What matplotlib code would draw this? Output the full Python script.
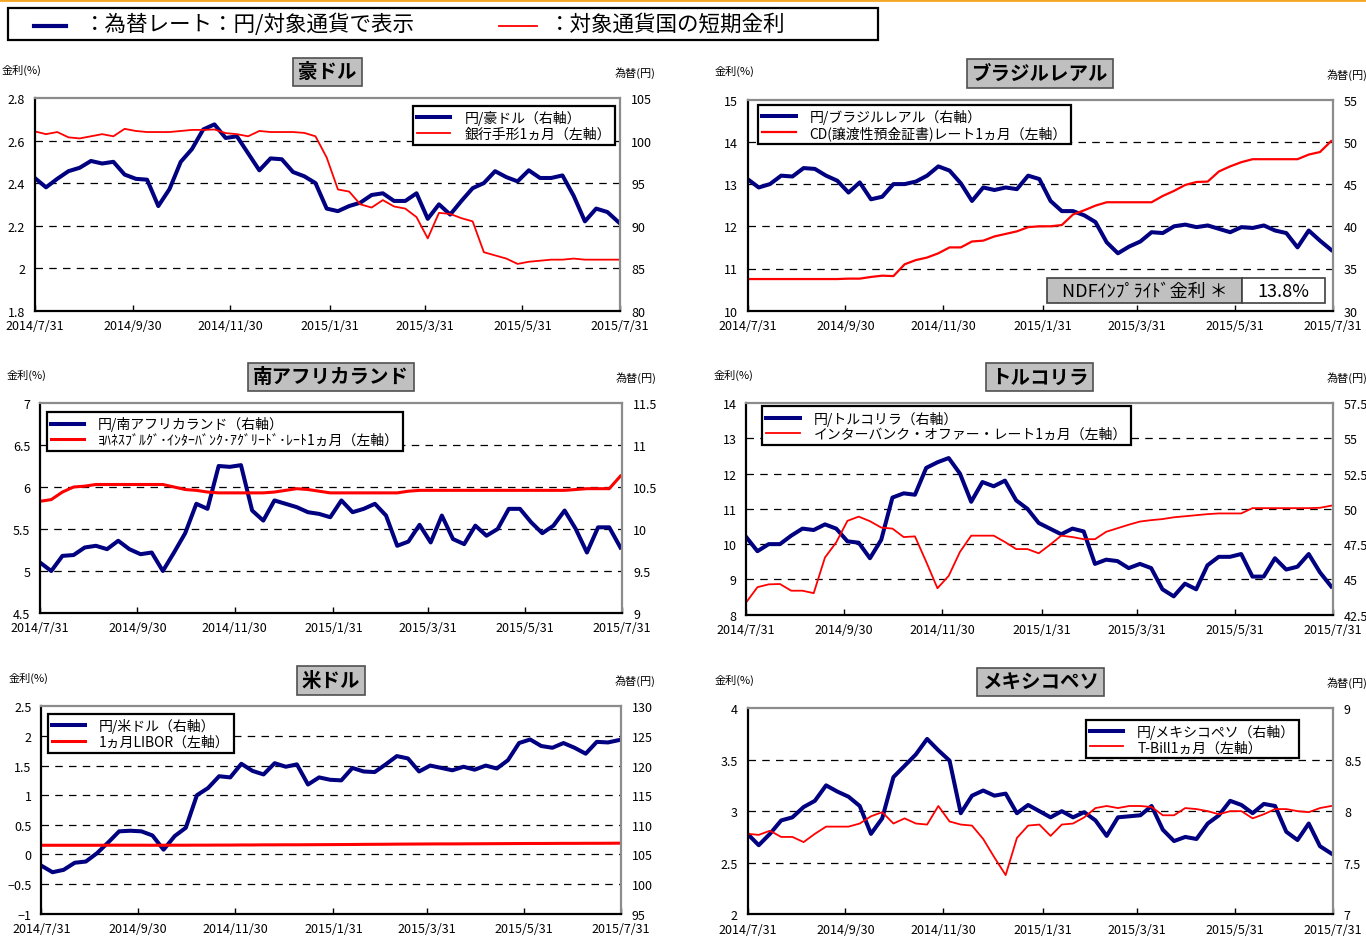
import numpy as np
import pandas as pd
import matplotlib
matplotlib.use('Agg')
import matplotlib.pyplot as plt
from matplotlib.lines import Line2D
from matplotlib.patches import Rectangle

plt.rcParams['font.family'] = ['Noto Sans CJK JP', 'DejaVu Sans']

# weekly readings, 2014/7/31 - 2015/7/30
week_dates = pd.date_range('2014-07-31', periods=53, freq='7D')

tick_dates = pd.to_datetime(['2014-07-31', '2014-09-30', '2014-11-30', '2015-01-31',
                             '2015-03-31', '2015-05-31', '2015-07-31'])
tick_labels = ['2014/7/31', '2014/9/30', '2014/11/30', '2015/1/31',
               '2015/3/31', '2015/5/31', '2015/7/31']

# 豪ドル
aud_jpy = [95.6, 94.5, 95.5, 96.4, 96.8, 97.6, 97.3, 97.5, 96.0, 95.5,
           95.4, 92.3, 94.3, 97.5, 99.0, 101.3, 101.9, 100.3, 100.5, 98.5,
           96.5, 97.9, 97.8, 96.3, 95.8, 95.0, 92.0, 91.7, 92.3, 92.7,
           93.6, 93.8, 92.9, 92.9, 93.8, 90.8, 92.5, 91.3, 92.9, 94.4,
           95.0, 96.4, 95.7, 95.2, 96.5, 95.6, 95.6, 95.9, 93.5, 90.5,
           92.0, 91.6, 90.4]
aud_rate = [2.643, 2.63, 2.64, 2.615, 2.61, 2.62, 2.63, 2.62, 2.655, 2.645,
            2.64, 2.64, 2.64, 2.645, 2.65, 2.65, 2.652, 2.635, 2.63, 2.62,
            2.645, 2.64, 2.64, 2.64, 2.636, 2.62, 2.52, 2.37, 2.36, 2.30,
            2.285, 2.32, 2.29, 2.28, 2.24, 2.14, 2.26, 2.255, 2.235, 2.22,
            2.075, 2.06, 2.045, 2.02, 2.03, 2.035, 2.04, 2.04, 2.045, 2.04,
            2.04, 2.04, 2.04]

# ブラジルレアル
brl_jpy = [45.6, 44.6, 45.0, 46.0, 45.9, 46.9, 46.8, 46.0, 45.4, 44.0,
           45.2, 43.2, 43.5, 45.0, 45.0, 45.3, 46.0, 47.1, 46.6, 45.1,
           43.0, 44.6, 44.3, 44.6, 44.4, 46.0, 45.6, 43.0, 41.8, 41.8,
           41.3, 40.5, 38.1, 36.8, 37.6, 38.2, 39.3, 39.2, 40.0, 40.2,
           39.9, 40.1, 39.7, 39.3, 39.9, 39.8, 40.1, 39.5, 39.2, 37.5,
           39.5, 38.3, 37.2]
brl_rate = [10.75, 10.75, 10.75, 10.75, 10.75, 10.75, 10.75, 10.75, 10.75, 10.76,
            10.76, 10.80, 10.83, 10.82, 11.10, 11.20, 11.26, 11.36, 11.50, 11.50,
            11.64, 11.66, 11.76, 11.82, 11.88, 11.98, 12.00, 12.00, 12.03, 12.28,
            12.38, 12.49, 12.57, 12.57, 12.57, 12.57, 12.57, 12.72, 12.84, 12.98,
            13.05, 13.06, 13.30, 13.42, 13.52, 13.59, 13.59, 13.59, 13.59, 13.59,
            13.70, 13.76, 14.02]
brl_ndf = '13.8%'

# 南アフリカランド
zar_jpy = [9.60, 9.50, 9.68, 9.69, 9.78, 9.80, 9.76, 9.86, 9.76, 9.70,
           9.72, 9.50, 9.72, 9.95, 10.30, 10.24, 10.75, 10.74, 10.76, 10.22,
           10.10, 10.34, 10.30, 10.26, 10.20, 10.18, 10.14, 10.34, 10.20, 10.24,
           10.30, 10.16, 9.80, 9.85, 10.05, 9.84, 10.16, 9.88, 9.82, 10.04,
           9.92, 10.00, 10.24, 10.24, 10.08, 9.95, 10.04, 10.22, 10.00, 9.72,
           10.02, 10.02, 9.78]
zar_rate = [5.83, 5.85, 5.94, 6.00, 6.01, 6.03, 6.03, 6.03, 6.03, 6.03,
            6.03, 6.03, 6.00, 5.97, 5.96, 5.94, 5.93, 5.93, 5.93, 5.93,
            5.93, 5.94, 5.96, 5.98, 5.97, 5.95, 5.93, 5.93, 5.93, 5.93,
            5.93, 5.93, 5.93, 5.95, 5.96, 5.96, 5.96, 5.96, 5.96, 5.96,
            5.96, 5.96, 5.96, 5.96, 5.96, 5.96, 5.96, 5.96, 5.97, 5.98,
            5.98, 5.98, 6.13]

# トルコリラ
try_jpy = [48.0, 47.0, 47.5, 47.5, 48.1, 48.6, 48.5, 48.9, 48.6, 47.7,
           47.6, 46.5, 47.8, 50.8, 51.1, 51.0, 52.9, 53.3, 53.6, 52.5,
           50.5, 51.9, 51.6, 52.0, 50.6, 50.0, 49.0, 48.6, 48.2, 48.6,
           48.4, 46.1, 46.4, 46.3, 45.8, 46.1, 45.8, 44.3, 43.8, 44.7,
           44.3, 46.0, 46.6, 46.6, 46.8, 45.2, 45.2, 46.5, 45.7, 45.9,
           46.8, 45.5, 44.5]
try_rate = [8.35, 8.78, 8.86, 8.87, 8.68, 8.68, 8.61, 9.62, 10.05, 10.66,
            10.78, 10.65, 10.47, 10.44, 10.20, 10.22, 9.50, 8.75, 9.10, 9.78,
            10.24, 10.24, 10.24, 10.06, 9.86, 9.86, 9.74, 9.98, 10.24, 10.20,
            10.14, 10.14, 10.35, 10.45, 10.55, 10.64, 10.68, 10.71, 10.76, 10.79,
            10.82, 10.85, 10.87, 10.87, 10.87, 11.02, 11.02, 11.02, 11.02, 11.02,
            11.02, 11.03, 11.09]

# 米ドル
usd_jpy = [103.1, 102.0, 102.4, 103.6, 103.8, 105.2, 107.0, 108.9, 109.0, 108.9,
           108.2, 105.8, 108.1, 109.5, 115.0, 116.2, 118.2, 118.0, 120.3, 119.1,
           118.5, 120.4, 119.8, 120.2, 116.8, 118.0, 117.6, 117.5, 119.6, 119.0,
           118.9, 120.2, 121.6, 121.2, 119.0, 120.0, 119.6, 119.2, 119.8, 119.3,
           120.0, 119.5, 120.9, 123.8, 124.4, 123.3, 123.0, 123.8, 123.0, 122.0,
           124.0, 123.9, 124.3]
usd_rate = [0.155, 0.155, 0.155, 0.155, 0.155, 0.155, 0.156, 0.156, 0.156, 0.156,
            0.155, 0.156, 0.156, 0.156, 0.157, 0.157, 0.158, 0.158, 0.160, 0.160,
            0.162, 0.162, 0.163, 0.163, 0.164, 0.165, 0.166, 0.167, 0.168, 0.170,
            0.171, 0.172, 0.174, 0.175, 0.176, 0.177, 0.178, 0.178, 0.179, 0.180,
            0.181, 0.182, 0.183, 0.184, 0.185, 0.185, 0.186, 0.187, 0.187, 0.188,
            0.188, 0.189, 0.190]

# メキシコペソ
mxn_jpy = [7.78, 7.67, 7.78, 7.91, 7.94, 8.04, 8.10, 8.25, 8.19, 8.14,
           8.05, 7.78, 7.93, 8.33, 8.44, 8.55, 8.70, 8.59, 8.49, 7.98,
           8.15, 8.20, 8.15, 8.17, 7.98, 8.06, 8.00, 7.94, 8.00, 7.94,
           7.99, 7.91, 7.76, 7.94, 7.95, 7.96, 8.05, 7.82, 7.71, 7.75,
           7.73, 7.88, 7.96, 8.10, 8.06, 7.98, 8.07, 8.05, 7.80, 7.72,
           7.88, 7.66, 7.59]
mxn_rate = [2.78, 2.77, 2.81, 2.75, 2.75, 2.70, 2.78, 2.85, 2.85, 2.85,
            2.88, 2.95, 2.99, 2.88, 2.93, 2.88, 2.87, 3.05, 2.90, 2.87,
            2.86, 2.73, 2.55, 2.38, 2.74, 2.86, 2.87, 2.76, 2.87, 2.88,
            2.94, 3.03, 3.05, 3.03, 3.05, 3.05, 3.04, 2.96, 2.96, 3.03,
            3.02, 3.00, 2.97, 3.00, 3.00, 2.93, 2.97, 3.02, 3.02, 3.00,
            2.99, 3.03, 3.05]

# axis ticks (left = 金利, right = 為替)
aud_left = [1.8, 2.0, 2.2, 2.4, 2.6, 2.8]
aud_right = [80, 85, 90, 95, 100, 105]
brl_left = [10, 11, 12, 13, 14, 15]
brl_right = [30, 35, 40, 45, 50, 55]
zar_left = [4.5, 5.0, 5.5, 6.0, 6.5, 7.0]
zar_right = [9.0, 9.5, 10.0, 10.5, 11.0, 11.5]
try_left = [8, 9, 10, 11, 12, 13, 14]
try_right = [42.5, 45, 47.5, 50, 52.5, 55, 57.5]
usd_left = [-1.0, -0.5, 0.0, 0.5, 1.0, 1.5, 2.0, 2.5]
usd_right = [95, 100, 105, 110, 115, 120, 125, 130]
mxn_left = [2.0, 2.5, 3.0, 3.5, 4.0]
mxn_right = [7.0, 7.5, 8.0, 8.5, 9.0]

NAVY = '#000080'
RED = '#ff0000'
W, H = 1366, 937


def fig_rect(l, t, r, b):
    # pixel box (from top-left) -> figure fraction
    return [l / W, 1 - b / H, (r - l) / W, (b - t) / H]


def fmt(v):
    return ('%g' % v).replace('-', '\u2212')


def draw_panel(fig, box, title, fx, rate, fx_ticks, rate_ticks,
               fx_label, rate_label, leg_loc, leg_anchor, rate_lw):
    ax = fig.add_axes(fig_rect(*box))
    ax2 = ax.twinx()
    # rate (left axis) drawn on top of the fx line
    ax.set_zorder(ax2.get_zorder() + 1)
    ax.patch.set_visible(False)

    l_fx, = ax2.plot(week_dates, fx, color=NAVY, lw=2.9, solid_joinstyle='round')
    l_rt, = ax.plot(week_dates, rate, color=RED, lw=rate_lw)

    ax.set_xlim(tick_dates[0], tick_dates[-1])
    ax.set_xticks(tick_dates, labels=tick_labels)
    ax.set_ylim(rate_ticks[0], rate_ticks[-1])
    ax.set_yticks(rate_ticks, labels=[fmt(v) for v in rate_ticks])
    ax2.set_ylim(fx_ticks[0], fx_ticks[-1])
    ax2.set_yticks(fx_ticks, labels=[fmt(v) for v in fx_ticks])

    ax2.grid(axis='y', color='black', lw=0.9, ls=(0, (6, 5)))
    gl = ax2.get_ygridlines()
    gl[0].set_visible(False)
    gl[-1].set_visible(False)

    for s in ax2.spines.values():
        s.set_visible(False)
    ax.spines['left'].set_color('black')
    ax.spines['bottom'].set_color('black')
    ax.spines['top'].set_color('#8c8c8c')
    ax.spines['right'].set_color('#8c8c8c')
    for s in ax.spines.values():
        s.set_linewidth(1.6)

    ax.tick_params(axis='x', direction='in', length=4, width=1, pad=6, labelsize=9)
    ax.tick_params(axis='y', length=0, pad=7, labelsize=9)
    ax2.tick_params(axis='y', length=0, pad=8, labelsize=9)

    leg = ax.legend([l_fx, l_rt], [fx_label, rate_label], loc=leg_loc,
                    bbox_to_anchor=leg_anchor, fontsize=10, fancybox=False,
                    edgecolor='black', framealpha=1, borderaxespad=0,
                    handlelength=2.4, handletextpad=1.0, labelspacing=0.1,
                    borderpad=0.3)
    leg.get_frame().set_linewidth(1.6)

    # title box and axis captions
    ax.annotate(title, xy=(0.5, 1), xycoords='axes fraction', xytext=(0, 26),
                textcoords='offset pixels', ha='center', va='center',
                fontsize=14, fontweight='bold',
                bbox=dict(boxstyle='square,pad=0.25', fc='#c0c0c0', ec='#505050', lw=1.2))
    ax.annotate('金利(%)', xy=(0, 1), xycoords='axes fraction', xytext=(-33, 29),
                textcoords='offset pixels', ha='left', va='center', fontsize=8)
    ax.annotate('為替(円)', xy=(1, 1), xycoords='axes fraction', xytext=(35, 26),
                textcoords='offset pixels', ha='right', va='center', fontsize=8)
    return ax


fig = plt.figure(figsize=(W / 100, H / 100), dpi=100)

# orange rule at the very top
fig.add_artist(Line2D([0, 1], [1 - 1 / H, 1 - 1 / H], color='#f5a623', lw=2,
                      transform=fig.transFigure))

# common legend
fig.add_artist(Rectangle((8 / W, 1 - 40.7 / H), 870 / W, 31.4 / H, fill=False,
                         ec='black', lw=1.6, transform=fig.transFigure))
fig.add_artist(Line2D([34 / W, 66 / W], [1 - 27 / H] * 2, color=NAVY, lw=3,
                      transform=fig.transFigure))
fig.text(84 / W, 1 - 25 / H, '：為替レート：円/対象通貨で表示', fontsize=15.5,
         ha='left', va='center')
fig.add_artist(Line2D([499 / W, 537 / W], [1 - 27 / H] * 2, color=RED, lw=1.3,
                      transform=fig.transFigure))
fig.text(549 / W, 1 - 25 / H, '：対象通貨国の短期金利', fontsize=15.5,
         ha='left', va='center')

draw_panel(fig, (34.8, 99, 620.2, 311.7), '豪ドル', aud_jpy, aud_rate,
           aud_right, aud_left, '円/豪ドル（右軸）', '銀行手形1ヵ月（左軸）',
           'upper right', (0.991, 0.962), 1.3)

ax_b = draw_panel(fig, (747.5, 100.7, 1332.8, 311.7), 'ブラジルレアル', brl_jpy, brl_rate,
                  brl_right, brl_left, '円/ブラジルレアル（右軸）',
                  'CD(譲渡性預金証書)レート1ヵ月（左軸）',
                  'upper left', (0.018, 0.976), 1.6)
# NDF implied rate box
ax_b.add_patch(Rectangle((0.512, 0.036), 0.333, 0.119, transform=ax_b.transAxes,
                         fc='#c0c0c0', ec='#404040', lw=1.2, zorder=5))
ax_b.add_patch(Rectangle((0.845, 0.036), 0.141, 0.119, transform=ax_b.transAxes,
                         fc='white', ec='#404040', lw=1.2, zorder=5))
ax_b.text(0.6785, 0.0955, 'NDFｲﾝﾌﾟﾗｲﾄﾞ金利 ＊', transform=ax_b.transAxes,
          ha='center', va='center', fontsize=13, zorder=6)
ax_b.text(0.9155, 0.0955, brl_ndf, transform=ax_b.transAxes,
          ha='center', va='center', fontsize=13, zorder=6)

draw_panel(fig, (40.1, 404, 622, 614), '南アフリカランド', zar_jpy, zar_rate,
           zar_right, zar_left, '円/南アフリカランド（右軸）',
           'ﾖﾊﾈｽﾌﾞﾙｸﾞ･ｲﾝﾀｰﾊﾞﾝｸ･ｱｸﾞﾘｰﾄﾞ･ﾚｰﾄ1ヵ月（左軸）',
           'upper left', (0.011, 0.956), 2.2)

draw_panel(fig, (746.2, 404, 1332.8, 615.7), 'トルコリラ', try_jpy, try_rate,
           try_right, try_left, '円/トルコリラ（右軸）',
           'インターバンク・オファー・レート1ヵ月（左軸）',
           'upper left', (0.027, 0.984), 1.3)

draw_panel(fig, (41.4, 707.3, 620.6, 914.7), '米ドル', usd_jpy, usd_rate,
           usd_right, usd_left, '円/米ドル（右軸）', '1ヵ月LIBOR（左軸）',
           'upper left', (0.011, 0.963), 2.2)

draw_panel(fig, (747.5, 709, 1332.8, 915.3), 'メキシコペソ', mxn_jpy, mxn_rate,
           mxn_right, mxn_left, '円/メキシコペソ（右軸）', 'T-Bill1ヵ月（左軸）',
           'upper right', (0.943, 0.943), 1.3)

fig.savefig('out.png', dpi=100)
